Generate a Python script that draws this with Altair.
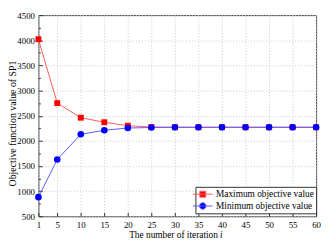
import altair as alt
import pandas as pd

iterations = [1, 5, 10, 15, 20, 25, 30, 35, 40, 45, 50, 55, 60]
max_values = [4020, 2750, 2460, 2370, 2300, 2275, 2270, 2270, 2270, 2270, 2270, 2270, 2270]
min_values = [880, 1630, 2130, 2210, 2255, 2265, 2270, 2270, 2270, 2270, 2270, 2270, 2270]
series_names = ["Maximum objective value", "Minimum objective value"]
x_ticks = [1, 5, 10, 15, 20, 25, 30, 35, 40, 45, 50, 55, 60]
y_ticks = [500, 1000, 1500, 2000, 2500, 3000, 3500, 4000, 4500]
y_minor = list(range(750, 4500, 250))

rows = []
for it, v in zip(iterations, max_values):
    rows.append({"iteration": it, "value": v, "series": series_names[0]})
for it, v in zip(iterations, min_values):
    rows.append({"iteration": it, "value": v, "series": series_names[1]})
df = pd.DataFrame(rows)

FONT = "Liberation Serif, Times New Roman, DejaVu Serif, serif"
W, H = 283, 205

xs = alt.Scale(domain=[1, 60], nice=False, zero=False)
ys = alt.Scale(domain=[500, 4500], nice=False, zero=False)

base = alt.Chart(df)

lines = base.mark_line(strokeWidth=1).encode(
    x=alt.X("iteration:Q", scale=xs, axis=alt.Axis(
        values=x_ticks, format="d", title="The number of iteration", titleFont=FONT, titleFontSize=9.5,
        titleFontWeight="normal", titleAnchor="start", titleAlign="left", titleX=92, titleY=22,
        titleBaseline="alphabetic", labelFont=FONT, labelFontSize=9, labelPadding=4,
        ticks=False, domain=False, grid=True, gridDash=[1, 2], gridColor="#c8c8c8",
        labelColor="black", titleColor="black", labelFlush=False)),
    y=alt.Y("value:Q", scale=ys, axis=alt.Axis(
        values=y_ticks, format="d", title="Objective function value of SP1", titleFont=FONT, titleFontSize=10,
        titleFontWeight="normal", titleX=-23.5, titleY=110, titleBaseline="alphabetic",
        titleAlign="center", titleAngle=-90,
        labelFont=FONT, labelFontSize=9, labelPadding=4, ticks=False, domain=False,
        grid=True, gridDash=[1, 2], gridColor="#c8c8c8", labelColor="black",
        titleColor="black", labelFlush=False)),
    stroke=alt.Stroke("series:N", scale=alt.Scale(domain=series_names, range=["#ff5a5a", "#5a5aff"]), legend=None),
)

pts_max = base.transform_filter(alt.datum.series == series_names[0]).mark_point(
    shape="square", filled=True, size=36, opacity=1, color="#ff0000"
).encode(
    x=alt.X("iteration:Q", scale=xs, axis=None),
    y=alt.Y("value:Q", scale=ys, axis=None),
)
pts_min = base.transform_filter(alt.datum.series == series_names[1]).mark_point(
    shape="circle", filled=True, size=45, opacity=1, color="#0000ff"
).encode(
    x=alt.X("iteration:Q", scale=xs, axis=None),
    y=alt.Y("value:Q", scale=ys, axis=None),
)

tick_layer = base.mark_point(opacity=0).encode(
    x=alt.X("iteration:Q", scale=xs, axis=alt.Axis(
        orient="top", offset=-H, values=x_ticks, labels=False, title=None, grid=False,
        domain=False, ticks=True, tickSize=4, tickColor="#333333")),
    y=alt.Y("value:Q", scale=ys, axis=alt.Axis(
        orient="right", offset=-W, values=y_ticks + y_minor, labels=False, title=None, grid=False,
        domain=False, ticks=True, tickColor="#333333",
        tickSize={"condition": {"test": "datum.value % 500 === 0", "value": 4}, "value": 2})),
)

sq_path = "M-2,0H2M-0.6,-0.6H0.6V0.6H-0.6Z"
ci_path = "M-2,0H2M0.65,0A0.65,0.65,0,1,1,-0.65,0A0.65,0.65,0,1,1,0.65,0Z"
leg = alt.Legend(title=None, orient="none", legendX=160, legendY=175, strokeColor="#333333",
                 padding=2, labelFont=FONT, labelFontSize=9.5, labelColor="black",
                 symbolSize=100, symbolStrokeWidth=1, labelOffset=8, rowPadding=1,
                 labelLimit=200, fillColor="white")
legend_layer = base.transform_filter(alt.datum.iteration > 1000).mark_point(filled=True, opacity=1).encode(
    x=alt.X("iteration:Q", scale=xs, axis=None),
    y=alt.Y("value:Q", scale=ys, axis=None),
    shape=alt.Shape("series:N", scale=alt.Scale(domain=series_names, range=[sq_path, ci_path]), legend=leg),
    fill=alt.Fill("series:N", scale=alt.Scale(domain=series_names, range=["#ff0000", "#0000ff"]), legend=leg),
    stroke=alt.Stroke("series:N", scale=alt.Scale(domain=series_names, range=["#ff5a5a", "#5a5aff"]), legend=leg),
)

i_text = alt.Chart(pd.DataFrame({"t": ["i"]})).mark_text(
    font=FONT, fontStyle="italic", fontSize=9.5, align="left", baseline="alphabetic", color="black"
).encode(text="t:N", x=alt.value(92 + 93), y=alt.value(H + 22))

chart = alt.layer(lines, pts_max, pts_min, tick_layer, legend_layer, i_text).resolve_axis(
    x="independent", y="independent"
).resolve_scale(stroke="independent", fill="independent", shape="independent").properties(
    width=W, height=H,
    autosize=alt.AutoSizeParams(type="none"),
    padding={"left": 31, "top": 5, "right": 6, "bottom": 26},
).configure_view(stroke="#404040", strokeWidth=1)

chart.save("out.html", embed_options={"renderer": "svg", "actions": False})
